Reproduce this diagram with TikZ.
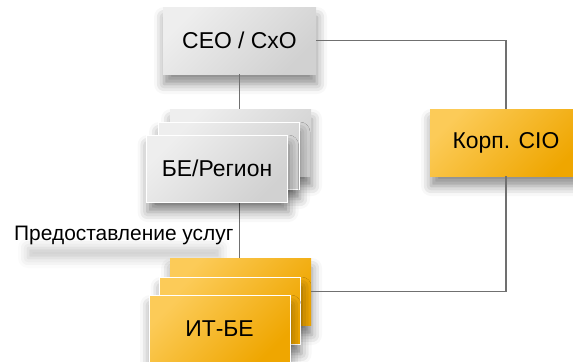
\documentclass[tikz,border=0pt]{standalone}
\usepackage{fontspec}
\setmainfont{Liberation Sans}
\usetikzlibrary{shadows.blur}

\definecolor{goldL}{HTML}{FCCB58}
\definecolor{goldD}{HTML}{EFA600}
\definecolor{greyL}{HTML}{EEEEEE}
\definecolor{greyD}{HTML}{D1D1D1}
\definecolor{wirec}{HTML}{707070}

\begin{document}
\begin{tikzpicture}[x=1bp,y=-1bp,
  card/.style={minimum width=141bp, minimum height=67bp, inner sep=0pt,
    draw=white, line width=0.9bp,
    blur shadow={shadow xshift=1bp, shadow yshift=-10bp,
      shadow blur radius=10bp, shadow opacity=45},
    font=\fontsize{23}{27}\selectfont},
  greycard/.style={card, top color=greyL, bottom color=greyD, shading angle=45},
  goldcard/.style={card, top color=goldL, bottom color=goldD, shading angle=45},
  wire/.style={draw=wirec, line width=1.8bp}]
\useasboundingbox (0,0) rectangle (573,361);
\clip (0,0) rectangle (573,361);

% soft shadow under the service label
\path[blur shadow={shadow xshift=0bp, shadow yshift=-14bp,
      shadow blur radius=10bp, shadow opacity=22}]
  (28,234) rectangle (220,244);

% top executive and corporate CIO
\node[greycard, draw=none, minimum width=153bp] (ceo) at (239.5,40.5) {CEO / CxO};
\node[goldcard, draw=none, minimum width=152bp] (cio) at (506,142.5) {Корп. CIO};

% IT unit stack
\node[goldcard, draw=none] (it3) at (240.5,291.5) {};
\node[goldcard] (it2) at (230,310.5) {};
\node[goldcard] (it1) at (219.5,328.5) {ИТ-БЕ};

% reporting line, passing behind the business unit stack
\draw[wire] (ceo.south) -- (ceo.south |- it3.north);

% business unit stack
\node[greycard, draw=none] (be3) at (240.5,142.5) {};
\node[greycard] (be2) at (228.5,155.5) {};
\node[greycard] (be1) at (217,168.5) {БЕ/Регион};

% connectors to the corporate CIO
\draw[wire] (ceo.east) -| (cio.north);
\draw[wire] (cio.south) |- (it3.east);

% service label
\node[anchor=west, inner sep=0pt, font=\fontsize{21}{25}\selectfont] (svc) at (14,235) {Предоставление услуг};
\end{tikzpicture}
\end{document}
